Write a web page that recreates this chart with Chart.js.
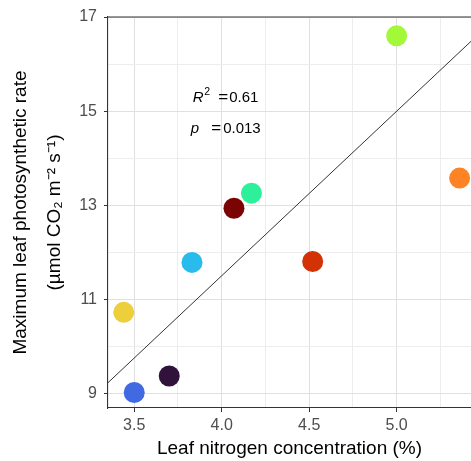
<!DOCTYPE html>
<html>
<head>
<meta charset="utf-8">
<script src="https://cdn.jsdelivr.net/npm/chart.js@4.4.1/dist/chart.umd.min.js"></script>
<style>
  html, body { margin: 0; padding: 0; background: #fff; }
  #wrap { width: 471px; height: 461px; position: relative; }
</style>
</head>
<body>
<div id="wrap"><canvas id="leafChart"></canvas></div>
<script>
// leaf N (%) vs Amax, one point per species
const leafN = [3.50, 3.70, 3.44, 3.83, 4.07, 4.17, 4.52, 5.00, 5.36];
const amax = [9.03, 9.38, 10.73, 11.79, 12.94, 13.26, 11.81, 16.60, 13.58];
const pointColors = ['#4169E1', '#30123B', '#EDCF3C', '#29BBEC', '#7A0403', '#2EF09A', '#D33106', '#A4F83A', '#FE8325'];
const xTicks = [3.5, 4.0, 4.5, 5.0];
const xMinor = [3.75, 4.25, 4.75, 5.25];
const yTicks = [9, 11, 13, 15, 17];
const yMinor = [10, 12, 14, 16];
const rSquared = '0.61';
const pValue = '0.013';

const FONT = "'Liberation Sans', Arial, Helvetica, sans-serif";
const X_MIN = 3.35, X_MAX = 5.425, Y_MIN = 8.7, Y_MAX = 17;

// standardised major axis line through the means
function smaLine(xs, ys, x0, x1) {
    const n = xs.length;
    const mx = xs.reduce((a, b) => a + b, 0) / n;
    const my = ys.reduce((a, b) => a + b, 0) / n;
    let sxx = 0, syy = 0, sxy = 0;
    for (let i = 0; i < n; i++) {
        sxx += (xs[i] - mx) ** 2;
        syy += (ys[i] - my) ** 2;
        sxy += (xs[i] - mx) * (ys[i] - my);
    }
    const slope = Math.sign(sxy) * Math.sqrt(syy / sxx);
    return [{x: x0, y: my + slope * (x0 - mx)}, {x: x1, y: my + slope * (x1 - mx)}];
}

const points = leafN.map((x, i) => ({x: x, y: amax[i]}));

// top border of the panel
const frameTop = {
    id: 'frameTop',
    afterDraw(chart) {
        const {ctx, chartArea} = chart;
        ctx.save();
        ctx.strokeStyle = '#333333';
        ctx.lineWidth = 1.1;
        ctx.beginPath();
        ctx.moveTo(chartArea.left, chartArea.top);
        ctx.lineTo(chartArea.right, chartArea.top);
        ctx.stroke();
        ctx.restore();
    }
};

// R^2 and p annotation
const statText = {
    id: 'statText',
    afterDatasetsDraw(chart) {
        const {ctx} = chart;
        const x0 = chart.scales.x.getPixelForValue(3.834);
        const y1 = chart.scales.y.getPixelForValue(15.2);
        const y2 = chart.scales.y.getPixelForValue(14.54);
        ctx.save();
        ctx.fillStyle = '#000';
        ctx.textBaseline = 'alphabetic';

        ctx.textAlign = 'left';
        ctx.font = 'italic 15px ' + FONT;
        ctx.fillText('R', x0, y1);
        ctx.font = '10.5px ' + FONT;
        ctx.fillText('2', x0 + 11.5, y1 - 6.5);
        ctx.font = '15px ' + FONT;
        ctx.fillText(rSquared, x0 + 36.5, y1);
        ctx.font = 'italic 15px ' + FONT;
        ctx.fillText('p', x0 - 2, y2);
        ctx.font = '15px ' + FONT;
        ctx.fillText(pValue, x0 + 30.5, y2);

        ctx.textAlign = 'center';
        ctx.font = '17px ' + FONT;
        ctx.fillText('=', x0 + 30.5, y1 + 0.5);
        ctx.fillText('=', x0 + 23.5, y2 + 0.5);
        ctx.restore();
    }
};

const ctx = document.getElementById('leafChart').getContext('2d');
new Chart(ctx, {
    type: 'scatter',
    data: {
        datasets: [{
                label: 'species',
                data: points,
                backgroundColor: pointColors,
                borderColor: pointColors,
                borderWidth: 0,
                pointRadius: 10.5,
                pointHoverRadius: 10.5,
                order: 1
            }, {
                label: 'SMA fit',
                type: 'line',
                data: smaLine(leafN, amax, X_MIN, X_MAX),
                borderColor: '#333333',
                borderWidth: 1,
                pointRadius: 0,
                fill: false,
                order: 2
            }]
    },
    options: {
        responsive: true,
        maintainAspectRatio: false,
        animation: false,
        layout: {autoPadding: false, padding: {top: 17, right: 0, left: 0, bottom: 0}},
        plugins: {
            legend: {display: false},
            tooltip: {enabled: false}
        },
        scales: {
            x: {
                type: 'linear',
                min: X_MIN,
                max: X_MAX,
                afterBuildTicks: (scale) => {
                    scale.ticks = xTicks.concat(xMinor).sort((a, b) => a - b).map(v => ({value: v}));
                },
                afterFit: (scale) => { scale.height = 53; },
                ticks: {
                    autoSkip: false,
                    maxRotation: 0,
                    padding: 4,
                    color: '#4D4D4D',
                    font: {family: FONT, size: 16},
                    callback: (v) => xTicks.includes(v) ? v.toFixed(1) : ''
                },
                grid: {
                    color: (c) => c.tick && xTicks.includes(c.tick.value) ? '#E0E0E0' : '#EDEDED',
                    tickColor: (c) => c.tick && xTicks.includes(c.tick.value) ? '#333333' : 'rgba(0,0,0,0)',
                    tickLength: 4,
                    lineWidth: 1
                },
                border: {display: true, color: '#333333', width: 1.1},
                title: {
                    display: true,
                    text: 'Leaf nitrogen concentration (%)',
                    color: '#000',
                    font: {family: FONT, size: 19},
                    padding: {top: 0, bottom: 1}
                }
            },
            y: {
                type: 'linear',
                min: Y_MIN,
                max: Y_MAX,
                afterBuildTicks: (scale) => {
                    scale.ticks = yTicks.concat(yMinor).sort((a, b) => a - b).map(v => ({value: v}));
                },
                afterFit: (scale) => { scale.width = 108; },
                ticks: {
                    autoSkip: false,
                    padding: 7,
                    color: '#4D4D4D',
                    font: {family: FONT, size: 16},
                    callback: (v) => yTicks.includes(v) ? String(v) : ''
                },
                grid: {
                    color: (c) => c.tick && yTicks.includes(c.tick.value) ? '#E0E0E0' : '#EDEDED',
                    tickColor: (c) => c.tick && yTicks.includes(c.tick.value) ? '#333333' : 'rgba(0,0,0,0)',
                    tickLength: 4,
                    lineWidth: 1
                },
                border: {display: true, color: '#333333', width: 1.1},
                title: {
                    display: true,
                    text: ['Maximum leaf photosynthetic rate', '(\u00B5mol CO\u2082 m\u207B\u00B2 s\u207B\u00B9)'],
                    color: '#000',
                    font: {family: FONT, size: 19, lineHeight: 1.82},
                    padding: {top: 3, bottom: 0}
                }
            }
        }
    },
    plugins: [frameTop, statText]
});
</script>
</body>
</html>
